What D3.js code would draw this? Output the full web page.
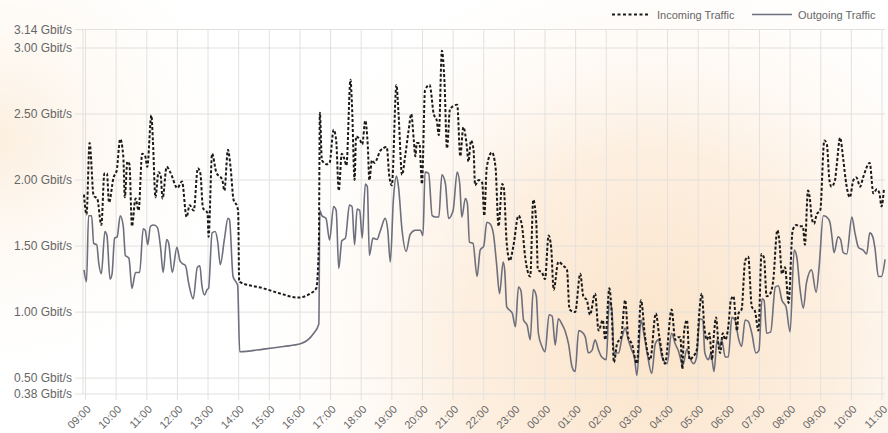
<!DOCTYPE html>
<html>
<head>
<meta charset="utf-8">
<script src="https://cdn.jsdelivr.net/npm/d3@7/dist/d3.min.js"></script>
<style>
  html, body { margin: 0; padding: 0; background: #fff; }
  svg { display: block; font-family: "Liberation Sans", Arial, Helvetica, sans-serif; }
</style>
</head>
<body>
<svg id="chart" width="888" height="433"></svg>
<script>
// ---- Data (minutes after 09:00 on day 1, values in Gbit/s) ----
const hourLabels = ["09:00","10:00","11:00","12:00","13:00","14:00","15:00","16:00","17:00","18:00","19:00","20:00","21:00","22:00","23:00","00:00","01:00","02:00","03:00","04:00","05:00","06:00","07:00","08:00","09:00","10:00","11:00"];
const yTickValues = [0.38, 0.5, 1.0, 1.5, 2.0, 2.5, 3.0, 3.14];
const seriesNames = ["Incoming Traffic", "Outgoing Traffic"];

const inMinutes = [-3,2,8,16,23,31,37,42,46,55,61,68,74,77,82,86,91,98,104,111,117,121,129,132,137,143,147,151,159,166,180,189,198,204,212,220,225,230,239,241,248,256,268,272,279,284,290,297,299,301,349,382,417,440,452,457,459,463,473,478,486,491,496,502,507,511,519,522,527,530,538,542,548,553,556,561,566,571,577,590,595,600,609,613,620,626,633,638,643,646,649,654,659,665,674,682,688,692,698,703,708,714,728,734,740,747,750,755,760,763,770,777,781,786,796,803,809,816,819,825,831,838,848,855,861,871,877,883,886,894,900,907,912,917,926,936,943,948,959,969,975,982,988,998,1005,1013,1018,1026,1031,1035,1041,1049,1057,1063,1070,1080,1088,1096,1106,1117,1124,1135,1148,1155,1161,1165,1169,1172,1178,1183,1189,1197,1202,1207,1212,1217,1222,1227,1231,1235,1240,1243,1248,1253,1259,1264,1269,1276,1279,1285,1292,1298,1305,1311,1318,1324,1329,1334,1341,1347,1355,1359,1364,1370,1377,1385,1392,1399,1405,1409,1415,1419,1422,1427,1432,1439,1447,1452,1457,1461,1468,1471,1478,1484,1490,1497,1504,1510,1517,1523,1536,1543,1550,1555,1559,1564];
const inValues = [1.89,1.74,2.28,1.88,1.86,1.66,2.05,2.05,1.83,2.02,2.07,2.31,2.18,1.87,2.14,2.12,1.65,1.86,1.77,2.20,2.18,2.10,2.49,2.30,1.87,2.06,2.04,1.86,2.10,2.06,1.94,1.99,1.72,1.81,1.77,2.09,2.05,1.79,1.75,1.57,2.20,2.06,2.00,1.92,2.23,2.10,1.85,1.80,1.76,1.23,1.18,1.14,1.11,1.14,1.18,1.50,2.51,2.15,2.12,2.13,2.38,2.30,1.92,2.20,2.16,2.11,2.76,2.56,2.00,2.33,2.30,2.27,2.45,2.25,2.00,2.15,2.13,2.16,2.22,2.25,2.03,1.96,2.72,2.51,2.04,2.18,2.38,2.50,2.30,2.18,2.28,2.28,1.97,2.68,2.72,2.50,2.45,2.34,2.98,2.75,2.24,2.54,2.57,2.18,2.40,2.25,2.14,2.30,2.23,1.96,2.00,1.98,1.73,2.10,2.21,2.10,1.65,1.97,1.95,1.52,1.39,1.50,1.73,1.65,1.42,1.27,1.85,1.67,1.32,1.30,1.25,1.58,1.49,1.17,1.38,1.35,1.32,1.02,1.00,1.29,1.12,1.09,0.98,1.14,0.86,0.94,0.79,1.18,0.96,0.62,0.76,0.81,1.09,0.81,0.76,0.61,1.09,0.81,0.64,0.99,0.81,0.61,1.02,0.79,0.81,0.81,0.57,0.84,0.94,0.64,0.66,0.71,0.99,1.14,0.89,0.79,0.84,0.64,0.84,0.96,0.74,0.69,0.84,0.79,0.89,1.09,1.12,0.86,0.99,1.02,1.39,1.42,1.04,1.01,0.86,1.44,1.41,1.12,1.14,1.24,1.62,1.54,1.29,1.34,1.07,1.62,1.66,1.65,1.65,1.51,1.92,1.85,1.72,1.67,1.74,1.77,2.30,2.27,2.00,1.95,2.00,2.10,2.32,2.16,1.97,1.87,2.00,2.02,1.95,2.02,2.13,1.90,1.93,1.90,1.80,1.94];

const outMinutes = [-3,2,6,12,16,22,26,31,38,42,48,52,57,62,68,74,78,85,91,98,106,113,117,122,127,134,141,147,152,159,163,170,179,185,189,196,202,211,219,224,228,233,238,241,248,254,259,264,272,279,282,289,296,298,302,349,388,421,447,457,459,463,471,478,486,491,496,502,509,517,522,527,532,537,542,548,552,556,563,571,577,587,592,597,603,609,613,620,628,636,646,656,661,665,672,679,685,692,698,705,711,720,728,733,737,744,748,752,759,767,773,780,786,792,799,805,811,818,821,825,832,836,842,848,853,858,865,871,877,883,887,894,900,908,914,920,926,933,940,946,953,959,966,972,979,985,992,998,1005,1011,1020,1026,1031,1035,1044,1051,1057,1063,1070,1075,1080,1088,1093,1100,1109,1116,1122,1129,1139,1148,1155,1161,1170,1178,1183,1191,1197,1203,1209,1213,1220,1225,1231,1237,1243,1246,1253,1259,1266,1272,1279,1285,1292,1298,1305,1313,1319,1325,1329,1334,1342,1351,1357,1364,1372,1380,1388,1393,1399,1406,1412,1422,1431,1437,1445,1452,1458,1462,1466,1474,1479,1484,1491,1501,1507,1514,1523,1530,1536,1542,1546,1553,1559,1566];
const outValues = [1.32,1.23,1.73,1.73,1.52,1.51,1.37,1.29,1.61,1.58,1.25,1.29,1.56,1.57,1.73,1.65,1.43,1.41,1.18,1.30,1.30,1.63,1.62,1.51,1.65,1.66,1.64,1.49,1.30,1.55,1.52,1.30,1.49,1.39,1.37,1.35,1.22,1.10,1.34,1.35,1.20,1.13,1.17,1.18,1.60,1.61,1.53,1.36,1.55,1.71,1.70,1.27,1.22,1.20,0.70,0.72,0.74,0.76,0.84,0.91,1.77,1.73,1.71,1.545,1.80,1.77,1.33,1.54,1.56,1.81,1.80,1.51,1.78,1.77,1.56,1.97,1.95,1.43,1.56,1.55,1.61,1.71,1.62,1.38,1.85,2.03,1.95,1.62,1.46,1.59,1.62,1.62,1.58,2.06,2.05,1.73,1.72,1.72,2.04,1.97,1.71,1.77,2.06,1.97,1.72,1.86,1.82,1.53,1.52,1.27,1.47,1.50,1.68,1.67,1.59,1.37,1.14,1.38,1.32,1.04,1.01,0.99,0.89,1.19,1.16,0.94,0.90,0.79,1.17,1.12,0.84,0.74,0.70,0.98,0.97,0.75,0.95,0.91,0.85,0.76,0.585,0.55,0.86,0.85,0.81,0.69,0.71,0.79,0.71,0.66,0.64,1.08,1.02,0.69,0.69,0.81,0.88,0.79,0.71,0.66,0.52,0.94,0.85,0.69,0.535,0.76,0.79,0.66,0.61,0.84,0.76,0.71,0.60,0.72,0.66,0.61,0.66,0.95,0.94,0.69,0.64,0.69,0.55,0.79,0.74,0.79,0.66,0.66,0.96,0.94,0.80,0.74,0.94,0.93,0.84,0.69,0.71,1.10,1.09,0.84,0.85,1.19,1.20,1.09,1.04,0.85,1.47,1.42,1.19,1.03,1.22,1.32,1.15,1.35,1.73,1.72,1.68,1.57,1.45,1.57,1.55,1.45,1.44,1.72,1.60,1.49,1.47,1.44,1.60,1.57,1.49,1.27,1.27,1.40];

// ---- Layout ----
const W = 888, H = 433;
const plot = { left: 83, right: 885, top: 29.5, bottom: 394 };
const svg = d3.select("#chart");

// background glow
const defs = svg.append("defs");
const g1 = defs.append("radialGradient").attr("id", "glow")
  .attr("gradientUnits", "userSpaceOnUse").attr("cx", 650).attr("cy", 340).attr("r", 420);
g1.append("stop").attr("offset", "0").attr("stop-color", "#fbe4ca");
g1.append("stop").attr("offset", "0.45").attr("stop-color", "#fdefe0");
g1.append("stop").attr("offset", "1").attr("stop-color", "#ffffff").attr("stop-opacity", 0);
const g2 = defs.append("radialGradient").attr("id", "glowL")
  .attr("gradientUnits", "userSpaceOnUse").attr("cx", 0).attr("cy", 140).attr("r", 260);
g2.append("stop").attr("offset", "0").attr("stop-color", "#fcefdf");
g2.append("stop").attr("offset", "1").attr("stop-color", "#ffffff").attr("stop-opacity", 0);
svg.append("rect").attr("width", W).attr("height", H).attr("fill", "#fff");
svg.append("rect").attr("width", W).attr("height", H).attr("fill", "url(#glowL)");
svg.append("rect").attr("width", W).attr("height", H).attr("fill", "url(#glow)");

// scales
const x = d3.scaleLinear().domain([0, 26 * 60]).range([85.5, 882]);
const y = d3.scaleLinear().domain([0.38, 3.14]).range([plot.bottom, plot.top]);

const gridColor = "#e3e1de";
const textColor = "#666";

// horizontal grid + y ticks
const yAxis = svg.append("g");
yAxis.selectAll("line").data(yTickValues).join("line")
  .attr("x1", 75).attr("x2", plot.right)
  .attr("y1", d => y(d)).attr("y2", d => y(d))
  .attr("stroke", gridColor).attr("stroke-width", 1);
yAxis.selectAll("text").data(yTickValues).join("text")
  .attr("x", 72).attr("y", d => y(d)).attr("dy", "0.34em")
  .attr("text-anchor", "end").attr("fill", textColor)
  .attr("font-size", 12)
  .text(d => d3.format(".2f")(d) + " Gbit/s");

// left border
svg.append("line").attr("x1", plot.left).attr("x2", plot.left)
  .attr("y1", plot.top).attr("y2", plot.bottom)
  .attr("stroke", gridColor);

// vertical grid + x ticks
const hourTicks = hourLabels.map((l, i) => i * 60);
const xAxis = svg.append("g");
xAxis.selectAll("line").data(hourTicks).join("line")
  .attr("x1", d => x(d)).attr("x2", d => x(d))
  .attr("y1", plot.top).attr("y2", plot.bottom + 6)
  .attr("stroke", gridColor).attr("stroke-width", 1);
xAxis.selectAll("text").data(hourTicks).join("text")
  .attr("transform", d => `translate(${x(d) + 6},${410}) rotate(-45)`)
  .attr("text-anchor", "end").attr("fill", textColor)
  .attr("font-size", 11)
  .text((d, i) => hourLabels[i]);

// lines
const line = d3.line().x(d => x(d.m)).y(d => y(d.v)).curve(d3.curveMonotoneX);
const inData = inMinutes.map((m, i) => ({ m, v: inValues[i] }));
const outData = outMinutes.map((m, i) => ({ m, v: outValues[i] }));

svg.append("path").datum(outData).attr("d", line)
  .attr("fill", "none").attr("stroke", "#6d6f7c").attr("stroke-width", 1.6)
  .attr("stroke-linejoin", "round");
svg.append("path").datum(inData).attr("d", line)
  .attr("fill", "none").attr("stroke", "#1a1a1a").attr("stroke-width", 2)
  .attr("stroke-dasharray", "3,2");

// legend
const legend = svg.append("g").attr("font-size", 11).attr("fill", textColor);
legend.append("line").attr("x1", 612).attr("x2", 650).attr("y1", 14.5).attr("y2", 14.5)
  .attr("stroke", "#1a1a1a").attr("stroke-width", 2).attr("stroke-dasharray", "3,2.5");
legend.append("text").attr("x", 657).attr("y", 18.5).text(seriesNames[0]);
legend.append("line").attr("x1", 752).attr("x2", 792).attr("y1", 14.5).attr("y2", 14.5)
  .attr("stroke", "#6d6f7c").attr("stroke-width", 1.6);
legend.append("text").attr("x", 798).attr("y", 18.5).text(seriesNames[1]);
</script>
</body>
</html>
